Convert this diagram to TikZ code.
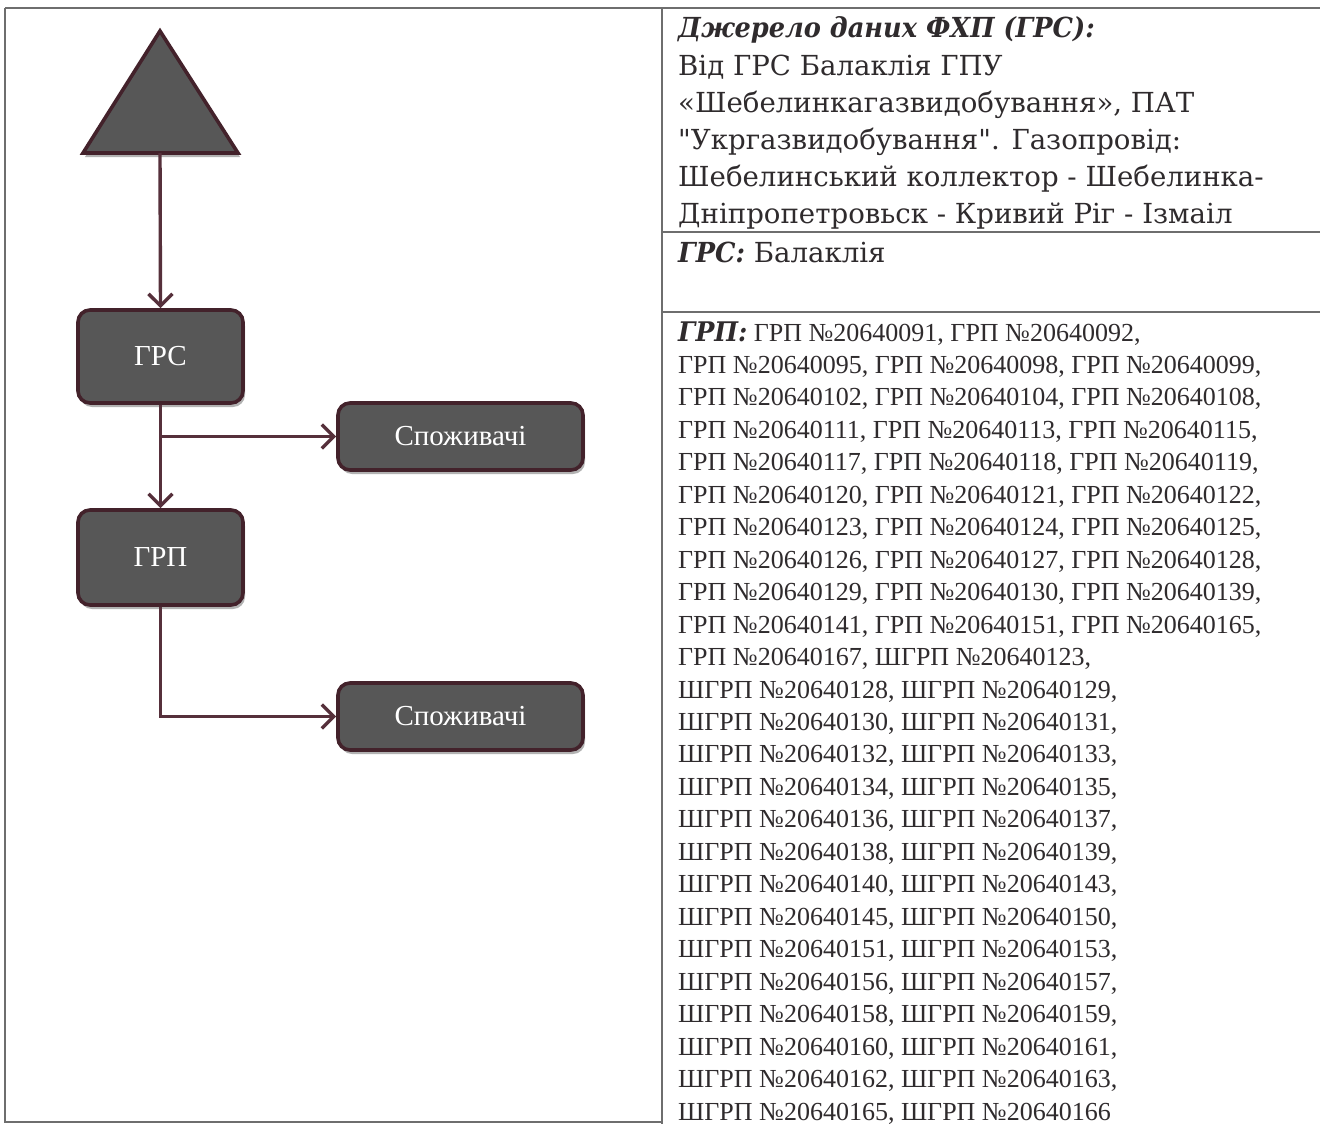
\documentclass[tikz,border=0pt]{standalone}
\usepackage{graphicx}
\usepackage{fontspec}
\setmainfont{Liberation Serif}
\newfontfamily\camb{DejaVu Serif}
\usetikzlibrary{arrows.meta,shadows}
\definecolor{boxfill}{HTML}{575757}
\definecolor{boxedge}{HTML}{43222B}
\definecolor{conncol}{HTML}{56303B}
\definecolor{txtcol}{HTML}{2F2B2D}
\definecolor{rulecol}{HTML}{6E6E6E}
\newcommand{\bihead}[1]{\scalebox{0.93}[1]{\textbf{\textit{#1}}}}
\tikzset{
  flowbox/.style={draw=boxedge, line width=3.6pt, fill=boxfill, rounded corners=12pt,
    text=white, font=\fontsize{29}{34}\selectfont, inner sep=0pt,
    drop shadow={shadow xshift=2pt, shadow yshift=-4pt, opacity=0.3, fill=black}},
  conn/.style={draw=conncol, line width=3.4pt, -{Straight Barb[length=12pt,width=24pt]}},
  rule/.style={draw=rulecol, line width=1.6pt},
  headtxt/.style={anchor=base west, inner sep=0pt, text=txtcol, font=\camb\fontsize{27.6}{37}\selectfont},
  listtxt/.style={anchor=base west, inner sep=0pt, text=txtcol, font=\fontsize{26}{32}\selectfont},
}
\begin{document}
\begin{tikzpicture}[x=1pt,y=-1pt]
\useasboundingbox (0,0) rectangle (1320,1124);
\fill[white] (0,0) rectangle (1320,1124);
% table rules
\draw[rule] (5,8) -- (1320,8);
\draw[rule] (5,8) -- (5,1122) -- (662,1122);
\draw[rule] (662,8) -- (662,1124);
\draw[rule] (662,232) -- (1320,232);
\draw[rule] (662,312) -- (1320,312);
% triangle
\path[draw=boxedge, line width=3.6pt, fill=boxfill, line join=miter,
  drop shadow={shadow xshift=2pt, shadow yshift=-4pt, opacity=0.3, fill=black}]
  (160,31) -- (238,153) -- (83,153) -- cycle;
\coordinate (trib) at (160,153);
% boxes
\node[flowbox, minimum width=165pt, minimum height=93pt] (grs) at (160.5,356.5) {ГРС};
\node[flowbox, minimum width=165pt, minimum height=95pt] (grp) at (160.5,557.5) {ГРП};
\node[flowbox, minimum width=245pt, minimum height=67pt] (c1) at (460.5,436.5) {Споживачі};
\node[flowbox, minimum width=245pt, minimum height=67pt] (c2) at (460.5,716.5) {Споживачі};
% connectors
\draw[conn] (trib) -- (grs.north);
\draw[conn] (grs.south) -- (grp.north);
\draw[conn] (grs.south |- c1.west) -- (c1.west);
\draw[conn] (grp.south) |- (c2.west);
% right column, top cell
\node[headtxt] (h1) at (678,38) {\bihead{Джерело даних ФХП (ГРС):}};
\node[headtxt] (h2) at (678,75) {Від ГРС Балаклія ГПУ};
\node[headtxt] (h3) at (678,112) {«Шебелинкагазвидобування», ПАТ};
\node[headtxt] (h4) at (678,149) {"Укргазвидобування". Газопровід:};
\node[headtxt] (h5) at (678,186) {Шебелинський коллектор - Шебелинка-};
\node[headtxt] (h6) at (678,223) {Дніпропетровьск - Кривий Ріг - Ізмаіл};
\node[headtxt] (h7) at (678,262) {\bihead{ГРС:} Балаклія};
% list
\foreach \t [count=\i] in {
 {{\camb\fontsize{27}{32}\selectfont\bihead{ГРП:}} ГРП №20640091, ГРП №20640092,},
 {ГРП №20640095, ГРП №20640098, ГРП №20640099,},
 {ГРП №20640102, ГРП №20640104, ГРП №20640108,},
 {ГРП №20640111, ГРП №20640113, ГРП №20640115,},
 {ГРП №20640117, ГРП №20640118, ГРП №20640119,},
 {ГРП №20640120, ГРП №20640121, ГРП №20640122,},
 {ГРП №20640123, ГРП №20640124, ГРП №20640125,},
 {ГРП №20640126, ГРП №20640127, ГРП №20640128,},
 {ГРП №20640129, ГРП №20640130, ГРП №20640139,},
 {ГРП №20640141, ГРП №20640151, ГРП №20640165,},
 {ГРП №20640167, ШГРП №20640123,},
 {ШГРП №20640128, ШГРП №20640129,},
 {ШГРП №20640130, ШГРП №20640131,},
 {ШГРП №20640132, ШГРП №20640133,},
 {ШГРП №20640134, ШГРП №20640135,},
 {ШГРП №20640136, ШГРП №20640137,},
 {ШГРП №20640138, ШГРП №20640139,},
 {ШГРП №20640140, ШГРП №20640143,},
 {ШГРП №20640145, ШГРП №20640150,},
 {ШГРП №20640151, ШГРП №20640153,},
 {ШГРП №20640156, ШГРП №20640157,},
 {ШГРП №20640158, ШГРП №20640159,},
 {ШГРП №20640160, ШГРП №20640161,},
 {ШГРП №20640162, ШГРП №20640163,},
 {ШГРП №20640165, ШГРП №20640166}}
 \node[listtxt] (g\i) at (678,{341+32.46*(\i-1)}) {\t};
\end{tikzpicture}
\end{document}
